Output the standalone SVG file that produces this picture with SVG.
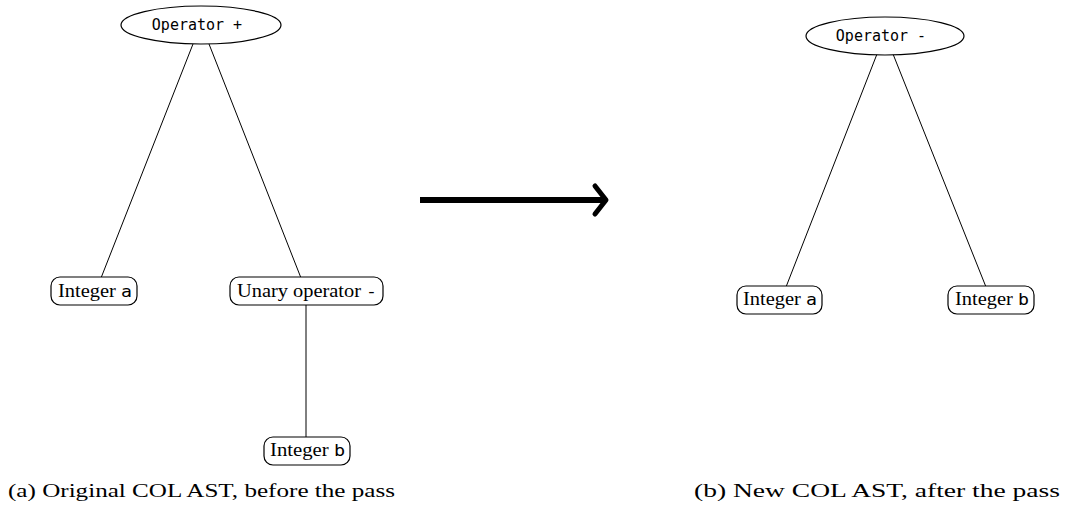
<svg xmlns="http://www.w3.org/2000/svg" width="1071" height="509" viewBox="0 0 1071 509">
  <style>
    .edge { stroke: #000; stroke-width: 1; fill: none; }
    .ell { fill: #fff; stroke: #000; stroke-width: 1.2; }
    .box { fill: #fff; stroke: #000; stroke-width: 1.2; }
    .mono { font-family: "DejaVu Sans Mono", "Liberation Mono", monospace; font-size: 15px; }
    .serif { font-family: "Liberation Serif", "DejaVu Serif", serif; font-size: 18px; }
    .lit { font-family: "DejaVu Sans Mono", "Liberation Mono", monospace; font-size: 16px; }
    .cap { font-family: "Liberation Serif", "DejaVu Serif", serif; font-size: 19px; }
  </style>
  <rect width="1071" height="509" fill="#fff"/>

  <!-- tree edges -->
  <g id="connectors">
    <line class="edge" x1="193" y1="44" x2="101" y2="278"/>
    <line class="edge" x1="209" y1="44" x2="301" y2="278"/>
    <line class="edge" x1="306" y1="305" x2="306" y2="437"/>
    <line class="edge" x1="877" y1="54" x2="786" y2="287"/>
    <line class="edge" x1="893" y1="54" x2="986" y2="287"/>
  </g>

  <!-- left tree -->
  <g id="op-plus">
    <ellipse class="ell" cx="201" cy="25" rx="80" ry="19"/>
    <text class="mono" x="197" y="30" text-anchor="middle" xml:space="preserve">Operator +</text>
  </g>
  <g id="int-a-left">
    <rect class="box" x="51" y="277" width="86" height="28" rx="9"/>
    <text class="serif" x="58" y="297" textLength="74" lengthAdjust="spacingAndGlyphs">Integer <tspan class="lit">a</tspan></text>
  </g>
  <g id="unary-minus">
    <rect class="box" x="230" y="277" width="153" height="28" rx="9"/>
    <text class="serif" x="237" y="297" textLength="140" lengthAdjust="spacingAndGlyphs">Unary operator <tspan class="lit">-</tspan></text>
  </g>
  <g id="int-b-left">
    <rect class="box" x="264" y="437" width="86" height="28" rx="9"/>
    <text class="serif" x="270" y="456" textLength="75" lengthAdjust="spacingAndGlyphs">Integer <tspan class="lit">b</tspan></text>
  </g>

  <!-- transformation arrow -->
  <g id="arrow">
    <line x1="420" y1="200" x2="604" y2="200" stroke="#000" stroke-width="6"/>
    <path d="M595,186 L606,200 L595,214" fill="none" stroke="#000" stroke-width="5" stroke-linecap="round" stroke-linejoin="round"/>
  </g>

  <!-- right tree -->
  <g id="op-minus">
    <ellipse class="ell" cx="885" cy="36" rx="79" ry="19"/>
    <text class="mono" x="881" y="41" text-anchor="middle" xml:space="preserve">Operator -</text>
  </g>
  <g id="int-a-right">
    <rect class="box" x="737" y="286" width="85" height="28" rx="9"/>
    <text class="serif" x="743" y="305" textLength="74" lengthAdjust="spacingAndGlyphs">Integer <tspan class="lit">a</tspan></text>
  </g>
  <g id="int-b-right">
    <rect class="box" x="948" y="286" width="86" height="28" rx="9"/>
    <text class="serif" x="955" y="305" textLength="74" lengthAdjust="spacingAndGlyphs">Integer <tspan class="lit">b</tspan></text>
  </g>

  <!-- captions -->
  <text class="cap" x="8" y="497" textLength="387" lengthAdjust="spacingAndGlyphs">(a) Original COL AST, before the pass</text>
  <text class="cap" x="694" y="497" textLength="366" lengthAdjust="spacingAndGlyphs">(b) New COL AST, after the pass</text>
</svg>
